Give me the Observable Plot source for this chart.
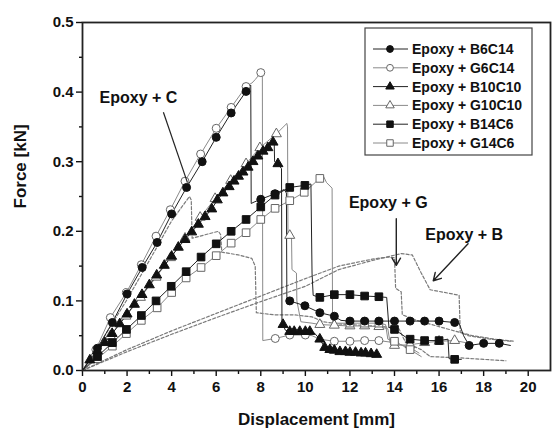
<!DOCTYPE html>
<html>
<head>
<meta charset="utf-8">
<script src="https://cdn.jsdelivr.net/npm/d3@7"></script>
<script src="https://cdn.jsdelivr.net/npm/@observablehq/plot@0.6"></script>
<style>
  html, body { margin: 0; padding: 0; background: white; }
  #chart { width: 552px; height: 431px; }
</style>
</head>
<body>
<div id="chart"></div>
<script>
// ---------- tick labels ----------
const xTicks = [0, 2, 4, 6, 8, 10, 12, 14, 16, 18, 20];
const xMinor = [1, 3, 5, 7, 9, 11, 13, 15, 17, 19];
const yTicks = [0, 0.1, 0.2, 0.3, 0.4, 0.5];
const yMinor = [0.05, 0.15, 0.25, 0.35, 0.45];

// ---------- series (legend) ----------
const seriesNames = ["Epoxy + B6C14", "Epoxy + G6C14", "Epoxy + B10C10", "Epoxy + G10C10", "Epoxy + B14C6", "Epoxy + G14C6"];
const seriesSymbols = ["circle", "circle", "triangle", "triangle", "square", "square"];
const seriesFilled = [true, false, true, false, true, false];

// [displacement mm, force kN, marker shown]
const b6c14 = [[0,0,0],[0.67,0.032,1],[1.34,0.069,1],[2.0,0.11,1],[2.68,0.148,1],[3.35,0.184,1],[4.0,0.225,1],[4.67,0.263,1],[5.37,0.3,1],[6.0,0.335,1],[6.67,0.37,1],[7.34,0.401,1],[7.55,0.41,0],[7.57,0.24,0],[7.7,0.242,0],[8.0,0.246,1],[8.64,0.254,1],[9.05,0.26,0],[9.15,0.255,0],[9.17,0.105,0],[9.3,0.1,1],[9.98,0.093,1],[10.65,0.083,1],[11.3,0.078,1],[11.6,0.072,0],[12.0,0.071,1],[12.66,0.071,1],[13.3,0.071,1],[14.0,0.071,1],[14.7,0.071,1],[15.35,0.071,1],[16.0,0.071,1],[16.7,0.069,1],[16.9,0.068,0],[17.1,0.05,0],[17.35,0.036,1],[18.0,0.039,1],[18.7,0.039,1],[19.2,0.036,0]];
const g6c14 = [[0,0,0],[0.6,0.03,1],[1.25,0.076,1],[1.97,0.112,1],[2.64,0.152,1],[3.3,0.193,1],[3.94,0.231,1],[4.6,0.272,1],[5.3,0.311,1],[6.0,0.348,1],[6.67,0.378,1],[7.34,0.408,1],[7.6,0.413,0],[7.75,0.418,0],[8.0,0.428,1],[8.07,0.43,0],[8.09,0.043,0],[8.65,0.046,1],[9.3,0.051,1],[10.0,0.051,1],[10.3,0.05,0],[10.65,0.045,0],[11.3,0.042,1],[12.0,0.042,1],[12.66,0.043,1],[13.3,0.043,1],[14.0,0.04,1],[14.7,0.033,1],[15.1,0.025,0]];
const b10c10 = [[0,0,0],[0.33,0.015,1],[0.67,0.028,1],[1.0,0.04,1],[1.33,0.053,1],[1.67,0.067,1],[2.0,0.081,1],[2.33,0.095,1],[2.67,0.109,1],[3.0,0.123,1],[3.33,0.137,1],[3.67,0.151,1],[4.0,0.164,1],[4.3,0.177,1],[4.6,0.188,1],[4.9,0.199,1],[5.2,0.21,1],[5.5,0.221,1],[5.8,0.232,1],[6.05,0.245,1],[6.3,0.255,1],[6.58,0.264,1],[6.8,0.272,1],[7.0,0.279,1],[7.2,0.285,1],[7.43,0.292,1],[7.65,0.3,1],[7.87,0.308,1],[8.1,0.315,1],[8.32,0.32,1],[8.55,0.328,1],[8.6,0.33,0],[8.62,0.3,0],[8.77,0.297,1],[8.93,0.29,0],[8.95,0.07,0],[9.0,0.066,1],[9.1,0.058,0],[9.3,0.056,1],[9.5,0.056,1],[9.75,0.056,1],[10.0,0.056,1],[10.2,0.056,1],[10.4,0.054,0],[10.65,0.045,1],[10.87,0.033,1],[11.1,0.03,1],[11.3,0.029,1],[11.55,0.027,1],[11.8,0.027,1],[12.0,0.026,1],[12.25,0.026,1],[12.5,0.025,1],[12.7,0.025,1],[12.95,0.024,1],[13.2,0.023,1]];
const g10c10 = [[0,0,0],[0.6,0.025,1],[1.25,0.05,1],[1.95,0.078,1],[2.6,0.105,1],[3.3,0.134,1],[3.95,0.162,1],[4.6,0.19,1],[5.28,0.22,1],[5.95,0.247,1],[6.65,0.273,1],[7.34,0.297,1],[7.96,0.32,1],[8.7,0.34,1],[9.17,0.355,0],[9.2,0.35,0],[9.22,0.195,0],[9.3,0.194,1],[9.38,0.19,0],[9.4,0.145,0],[9.6,0.14,0],[9.62,0.1,0],[9.8,0.07,0],[10.3,0.068,0],[10.65,0.066,1],[11.3,0.065,1],[12.0,0.064,1],[12.66,0.064,1],[13.3,0.063,1],[13.7,0.06,0],[13.8,0.04,0],[14.0,0.036,1],[14.7,0.037,1],[15.35,0.04,1],[16.0,0.042,1],[16.7,0.043,1],[17.2,0.04,0]];
const b14c6 = [[0,0,0],[0.67,0.02,1],[1.34,0.04,1],[1.97,0.059,1],[2.64,0.079,1],[3.3,0.1,1],[3.98,0.121,1],[4.65,0.142,1],[5.32,0.163,1],[6.0,0.182,1],[6.67,0.2,1],[7.34,0.217,1],[8.0,0.235,1],[8.64,0.252,1],[9.3,0.263,1],[9.98,0.266,1],[10.25,0.268,0],[10.3,0.14,0],[10.35,0.108,0],[10.65,0.105,1],[11.3,0.109,1],[12.0,0.109,1],[12.66,0.107,1],[13.3,0.106,1],[13.65,0.105,0],[13.75,0.062,0],[14.0,0.059,1],[14.5,0.048,0],[14.7,0.045,1],[15.35,0.043,1],[16.0,0.043,1],[16.4,0.045,0],[16.45,0.017,0],[16.7,0.016,1],[17.0,0.016,0]];
const g14c6 = [[0,0,0],[0.67,0.017,1],[1.34,0.035,1],[1.97,0.053,1],[2.64,0.072,1],[3.35,0.09,1],[4.0,0.112,1],[4.65,0.133,1],[5.32,0.148,1],[6.0,0.165,1],[6.67,0.183,1],[7.34,0.198,1],[8.0,0.217,1],[8.64,0.233,1],[9.3,0.244,1],[9.95,0.256,1],[10.65,0.276,1],[10.8,0.28,0],[10.95,0.27,0],[11.2,0.262,0],[11.22,0.07,0],[11.4,0.068,0],[12.0,0.068,1],[12.66,0.068,1],[13.3,0.068,1],[13.6,0.066,0],[13.7,0.045,0],[14.0,0.042,1],[14.7,0.03,1],[15.2,0.02,0]];

// ---------- dashed reference curves (no markers) ----------
const epoxyC = [[0,0],[1,0.05],[2,0.102],[3,0.158],[4,0.215],[4.8,0.25],[4.88,0.245],[4.92,0.19],[5.5,0.195],[6.1,0.2],[6.2,0.195],[6.25,0.17],[7.0,0.166],[7.6,0.161],[7.75,0.15],[7.8,0.083],[8.6,0.08],[9.5,0.08],[10.3,0.077],[10.8,0.07],[11.5,0.067],[12.5,0.065],[13.5,0.063],[14.2,0.06],[14.5,0.04],[15.2,0.03],[15.6,0.02],[17.0,0.018],[19.0,0.014]];
const epoxyG = [[0,0],[2,0.03],[4,0.057],[6,0.082],[8,0.107],[10,0.132],[11.5,0.15],[13,0.16],[13.7,0.163],[14.0,0.162],[14.05,0.118],[14.3,0.113],[14.35,0.08],[15,0.072],[16,0.063],[16.9,0.055],[17.5,0.05],[18.5,0.045],[19.4,0.042]];
const epoxyB = [[0,0],[2,0.027],[4,0.052],[6,0.076],[8,0.099],[10,0.121],[11.5,0.145],[13,0.158],[14.3,0.168],[14.8,0.166],[15.2,0.14],[15.6,0.116],[16.6,0.11],[16.9,0.108],[16.95,0.055],[17.3,0.05],[18.3,0.045],[19.2,0.042]];

// ---------- annotations ----------
const annoLabels = ["Epoxy + C", "Epoxy + G", "Epoxy + B"];
const annoX = [2.51, 13.72, 17.13];
const annoY = [0.392, 0.241, 0.195];
const arrowX1 = [3.63, 14.08, 17.3];
const arrowY1 = [0.371, 0.218, 0.182];
const arrowX2 = [4.71, 14.08, 15.74];
const arrowY2 = [0.27, 0.151, 0.129];

const allSeries = [b6c14, g6c14, b10c10, g10c10, b14c6, g14c6];
const dashed = [epoxyC, epoxyG, epoxyB];

const FONT = "'Liberation Sans', Arial, Helvetica, sans-serif";
const INK = "#111";
const symR = {circle: 4, triangle: 3.7, square: 4.3};

const marks = [];
for (const c of dashed) {
  marks.push(Plot.line(c, {x: d => d[0], y: d => d[1], stroke: "#7a7a7a", strokeWidth: 1.2, strokeDasharray: "3,2"}));
}
const order = [1, 3, 5, 0, 2, 4];
for (const i of order) {
  const s = allSeries[i];
  const filled = seriesFilled[i];
  marks.push(Plot.line(s, {x: d => d[0], y: d => d[1], stroke: filled ? "#222" : "#8a8a8a", strokeWidth: 1}));
}
for (const i of order) {
  const s = allSeries[i];
  const filled = seriesFilled[i];
  marks.push(Plot.dot(s.filter(d => d[2]), {
    x: d => d[0], y: d => d[1], symbol: seriesSymbols[i], r: symR[seriesSymbols[i]],
    fill: filled ? "#111" : "white", stroke: filled ? "#111" : "#666", strokeWidth: 1
  }));
}

const chart = Plot.plot({
  width: 552,
  height: 431,
  marginLeft: 82,
  marginRight: 2,
  marginTop: 22,
  marginBottom: 61,
  x: {domain: [0, 21]},
  y: {domain: [0, 0.5]},
  style: {fontFamily: FONT, fontSize: "14px", fontWeight: "bold", color: INK, background: "white"},
  marks: [
    Plot.axisX({ticks: xTicks, tickSize: 6, tickPadding: 5, label: null, tickFormat: d => String(d), strokeWidth: 1.4, fontSize: 15}),
    Plot.axisX({ticks: xMinor, tickSize: 4, label: null, tickFormat: () => "", strokeWidth: 1.4}),
    Plot.axisY({ticks: yTicks, tickSize: 6, tickPadding: 3, label: null, tickFormat: d => d.toFixed(1), strokeWidth: 1.4, fontSize: 15}),
    Plot.axisY({ticks: yMinor, tickSize: 3, label: null, tickFormat: () => "", strokeWidth: 1.4}),
    ...marks,
    Plot.link(annoLabels.slice(0, 1), {x1: (d, i) => arrowX1[i], y1: (d, i) => arrowY1[i], x2: (d, i) => arrowX2[i], y2: (d, i) => arrowY2[i], stroke: "#222", strokeWidth: 1.2}),
    Plot.arrow(annoLabels.slice(1), {x1: (d, i) => arrowX1[i + 1], y1: (d, i) => arrowY1[i + 1], x2: (d, i) => arrowX2[i + 1], y2: (d, i) => arrowY2[i + 1], stroke: "#222", strokeWidth: 1.4, headLength: 9}),
    Plot.text(annoLabels, {x: (d, i) => annoX[i], y: (d, i) => annoY[i], text: d => d, fontSize: 16, fontWeight: "bold", fill: INK}),
    Plot.text(["Displacement [mm]"], {frameAnchor: "bottom", dy: 54, text: d => d, fontSize: 17, fontWeight: "bold", fill: INK}),
    Plot.text(["Force [kN]"], {frameAnchor: "left", dx: -62, dy: 12, rotate: -90, text: d => d, fontSize: 17, fontWeight: "bold", fill: INK}),
    Plot.frame({stroke: "#222", strokeWidth: 1.8})
  ]
});

// ---------- legend box (inside the plot, upper right) ----------
const svg = d3.select(chart);
const lg = svg.append("g").attr("font-family", FONT).attr("font-weight", "bold").attr("font-size", 14).attr("text-anchor", "start");
const lx = 365, ly = 28, lw = 167, lh = 127, rowH = 18.8, row0 = 49;
lg.append("rect").attr("x", lx).attr("y", ly).attr("width", lw).attr("height", lh)
  .attr("fill", "white").attr("stroke", "#444").attr("stroke-width", 1.2);
seriesNames.forEach((name, i) => {
  const y = row0 + i * rowH;
  const filled = seriesFilled[i];
  lg.append("line").attr("x1", 373).attr("x2", 408).attr("y1", y).attr("y2", y)
    .attr("stroke", filled ? "#222" : "#8a8a8a").attr("stroke-width", 1);
  const sym = seriesSymbols[i] === "circle" ? d3.symbolCircle : seriesSymbols[i] === "triangle" ? d3.symbolTriangle : d3.symbolSquare;
  const r = symR[seriesSymbols[i]] * 0.85;
  lg.append("path").attr("transform", `translate(390,${y})`)
    .attr("d", d3.symbol(sym, Math.PI * r * r)())
    .attr("fill", filled ? "#111" : "white").attr("stroke", filled ? "#111" : "#666").attr("stroke-width", 1);
  lg.append("text").attr("x", 412).attr("y", y).attr("dy", "0.36em").attr("text-anchor", "start").attr("fill", INK).text(name);
});

document.getElementById("chart").appendChild(chart);
</script>
</body>
</html>
